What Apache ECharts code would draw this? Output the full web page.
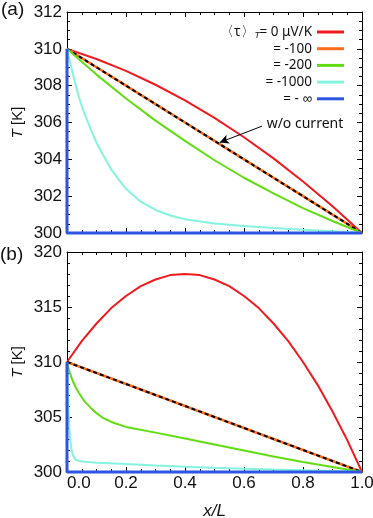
<!DOCTYPE html>
<html>
<head>
<meta charset="utf-8">
<script src="https://cdn.jsdelivr.net/npm/echarts@6/dist/echarts.min.js"></script>
<style>
  html, body { margin: 0; padding: 0; background: #fff; }
  #chart { width: 373px; height: 518px; }
</style>
</head>
<body>
<div id="chart"></div>
<script>
'use strict'

// ---- data ----
// panel (a)
const xA = [0, 0.1, 0.2, 0.3, 0.4, 0.5, 0.6, 0.7, 0.8, 0.9, 1.0]
const redA = [310, 309.45, 308.8, 308.05, 307.2, 306.25, 305.2, 304.05, 302.8, 301.45, 300]
const orangeA = [310, 309, 308, 307, 306, 305, 304, 303, 302, 301, 300]
const greenA = [310, 308.6, 307.3, 306.1, 305.0, 303.95, 303.0, 302.15, 301.35, 300.65, 300]
const xCyanA = [0, 0.01, 0.02, 0.03, 0.04, 0.05, 0.06, 0.08, 0.1, 0.12, 0.15, 0.18, 0.2, 0.25, 0.3, 0.35, 0.4, 0.5, 0.6, 0.7, 0.8, 0.9, 1.0]
const cyanA = [310, 309.3, 308.65, 308.0, 307.4, 306.9, 306.45, 305.65, 304.9, 304.3, 303.45, 302.8, 302.4, 301.7, 301.25, 300.95, 300.75, 300.52, 300.38, 300.27, 300.18, 300.1, 300]
// panel (b)
const xRedB = [0, 0.05, 0.1, 0.15, 0.2, 0.25, 0.3, 0.35, 0.4, 0.45, 0.5, 0.55, 0.6, 0.65, 0.7, 0.75, 0.8, 0.85, 0.9, 0.95, 1.0]
const redB = [310, 311.9, 313.5, 314.9, 316, 316.9, 317.5, 317.9, 318, 317.9, 317.5, 316.9, 316, 314.9, 313.5, 311.9, 310, 307.9, 305.5, 302.9, 300]
const orangeB = [310, 309, 308, 307, 306, 305, 304, 303, 302, 301, 300]
const xGreenB = [0, 0.005, 0.01, 0.015, 0.02, 0.03, 0.04, 0.05, 0.06, 0.08, 0.1, 0.12, 0.15, 0.2, 0.3, 0.4, 0.5, 0.6, 0.7, 0.8, 0.9, 1.0]
const greenB = [310, 309.45, 309.0, 308.6, 308.25, 307.65, 307.2, 306.8, 306.4, 305.85, 305.35, 304.95, 304.55, 304.1, 303.58, 303.05, 302.5, 301.95, 301.4, 300.9, 300.45, 300]
const xCyanB = [0, 0.002, 0.004, 0.006, 0.008, 0.01, 0.015, 0.02, 0.03, 0.05, 0.1, 0.2, 0.3, 0.4, 0.5, 0.6, 0.7, 0.8, 0.9, 1.0]
const cyanB = [310, 308.2, 306.6, 305.1, 304, 303.2, 302.1, 301.5, 301.1, 300.95, 300.85, 300.73, 300.6, 300.48, 300.38, 300.3, 300.22, 300.15, 300.08, 300]
// both panels
const xBlue = [0, 0, 1]
const blueT = [310, 300, 300]
const xRef = [0, 1]
const refT = [310, 300]

const seriesNames = ['0', '-100', '-200', '-1000', '-inf']
const legendTexts = ['{p|〈τ〉}{s|T}{v|= 0 μV/K}', '{v|= -100}', '{v|= -200}', '{v|= -1000}', '{v|= - ∞}']
const colors = ['#f01a1e', '#ff6c1c', '#62dc12', '#84f4e0', '#2b55e2']

const SANS = '"Liberation Sans", Arial, Helvetica, sans-serif'
const LEG = '"Noto Sans", "Liberation Sans", sans-serif'

const pts = (xs, ys) => xs.map((x, i) => [x, ys[i]])

function line(name, xs, ys, grid, color, width, extra) {
  return Object.assign({
    type: 'line', name: name, xAxisIndex: grid * 2, yAxisIndex: grid * 2,
    data: pts(xs, ys), showSymbol: false, symbol: 'none', clip: false,
    color: color, lineStyle: { color: color, width: width }, silent: true
  }, extra || {})
}

const black = { color: '#000' }

function xAx(grid, pos, labels) {
  return {
    type: 'value', gridIndex: grid, position: pos, min: 0, max: 1, interval: 0.2,
    axisLine: { show: true, onZero: false, lineStyle: { color: '#000', width: 1 } },
    axisTick: { show: true, inside: true, length: 5, lineStyle: black },
    minorTick: { show: true, splitNumber: 4, length: 3, lineStyle: black },
    splitLine: { show: false },
    axisLabel: {
      show: labels, margin: 3, color: '#111', fontSize: 17, fontFamily: SANS,
      formatter: v => v.toFixed(1), alignMinLabel: 'left'
    },
    name: labels ? 'x/L' : '', nameLocation: 'middle', nameGap: 31, nameMoveOverlap: false,
    nameTextStyle: { fontSize: 17, fontStyle: 'italic', fontFamily: SANS, color: '#111' }
  }
}

function yAx(grid, pos, min, max, interval, split, labels) {
  return {
    type: 'value', gridIndex: grid, position: pos, min: min, max: max, interval: interval,
    axisLine: { show: true, onZero: false, lineStyle: { color: '#000', width: 1 } },
    axisTick: { show: true, inside: true, length: 5, lineStyle: black },
    minorTick: { show: true, splitNumber: split, length: 3, lineStyle: black },
    splitLine: { show: false },
    axisLabel: { show: labels, margin: 5, color: '#111', fontSize: 17, fontFamily: SANS },
    name: labels ? '{i|T} [K]' : '', nameLocation: 'middle', nameGap: 42, nameMoveOverlap: false,
    nameTextStyle: {
      fontSize: 15, fontFamily: SANS, color: '#111',
      rich: { i: { fontSize: 15, fontStyle: 'italic', fontFamily: SANS, color: '#111' } }
    }
  }
}

const dashed = { lineStyle: { color: '#000', width: 2, type: [4, 3] } }

const arrow = {
  markLine: {
    silent: true, animation: false, symbol: ['none', 'arrow'], symbolSize: [7, 9],
    lineStyle: { color: '#000', width: 1, type: 'solid' },
    label: {
      show: true, position: 'start', formatter: 'w/o current',
      color: '#111', fontSize: 14, fontFamily: LEG
    },
    data: [[{ coord: [0.661, 305.8] }, { coord: [0.518, 304.92] }]]
  }
}

const option = {
  animation: false,
  backgroundColor: '#fff',
  title: [
    { text: '(a)', left: 1, top: 0, padding: 0, textStyle: { fontSize: 19, fontWeight: 'normal', fontFamily: SANS, color: '#111' } },
    { text: '(b)', left: 0, top: 245, padding: 0, textStyle: { fontSize: 19, fontWeight: 'normal', fontFamily: SANS, color: '#111' } }
  ],
  grid: [
    { left: 67, top: 12, width: 295, height: 221, outerBoundsMode: 'none' },
    { left: 67, top: 252, width: 295, height: 220, outerBoundsMode: 'none' }
  ],
  legend: {
    data: seriesNames, orient: 'vertical', align: 'right', right: 29, top: 24, padding: 0,
    itemGap: 0.7, itemWidth: 27, itemHeight: 3, icon: 'rect', selectedMode: false,
    formatter: name => legendTexts[seriesNames.indexOf(name)],
    textStyle: {
      color: '#111', fontSize: 13.5, fontFamily: LEG, lineHeight: 16,
      rich: {
        p: { fontSize: 13.5, lineHeight: 16, color: '#111' },
        s: { fontSize: 9, lineHeight: 16, fontStyle: 'italic', verticalAlign: 'bottom', color: '#111', fontFamily: SANS },
        v: { fontSize: 13.5, lineHeight: 16, width: 52, color: '#111', fontFamily: LEG }
      }
    }
  },
  xAxis: [xAx(0, 'bottom', false), xAx(0, 'top', false), xAx(1, 'bottom', true), xAx(1, 'top', false)],
  yAxis: [
    yAx(0, 'left', 300, 312, 2, 4, true), yAx(0, 'right', 300, 312, 2, 4, false),
    yAx(1, 'left', 300, 320, 5, 5, true), yAx(1, 'right', 300, 320, 5, 5, false)
  ],
  series: [
    line(seriesNames[0], xA, redA, 0, colors[0], 2),
    line(seriesNames[1], xA, orangeA, 0, colors[1], 2.6),
    line('w/o current', xRef, refT, 0, '#000', 2, Object.assign({}, dashed, arrow)),
    line(seriesNames[2], xA, greenA, 0, colors[2], 2),
    line(seriesNames[3], xCyanA, cyanA, 0, colors[3], 2),
    line(seriesNames[4], xBlue, blueT, 0, colors[4], 3),

    line(seriesNames[0], xRedB, redB, 1, colors[0], 2),
    line(seriesNames[1], xA, orangeB, 1, colors[1], 2.6),
    line('w/o current b', xRef, refT, 1, '#000', 2, dashed),
    line(seriesNames[2], xGreenB, greenB, 1, colors[2], 2),
    line(seriesNames[3], xCyanB, cyanB, 1, colors[3], 2),
    line(seriesNames[4], xBlue, blueT, 1, colors[4], 3)
  ]
}

const chart = echarts.init(document.getElementById('chart'), null, { renderer: 'canvas' })
chart.setOption(option)
</script>
</body>
</html>
